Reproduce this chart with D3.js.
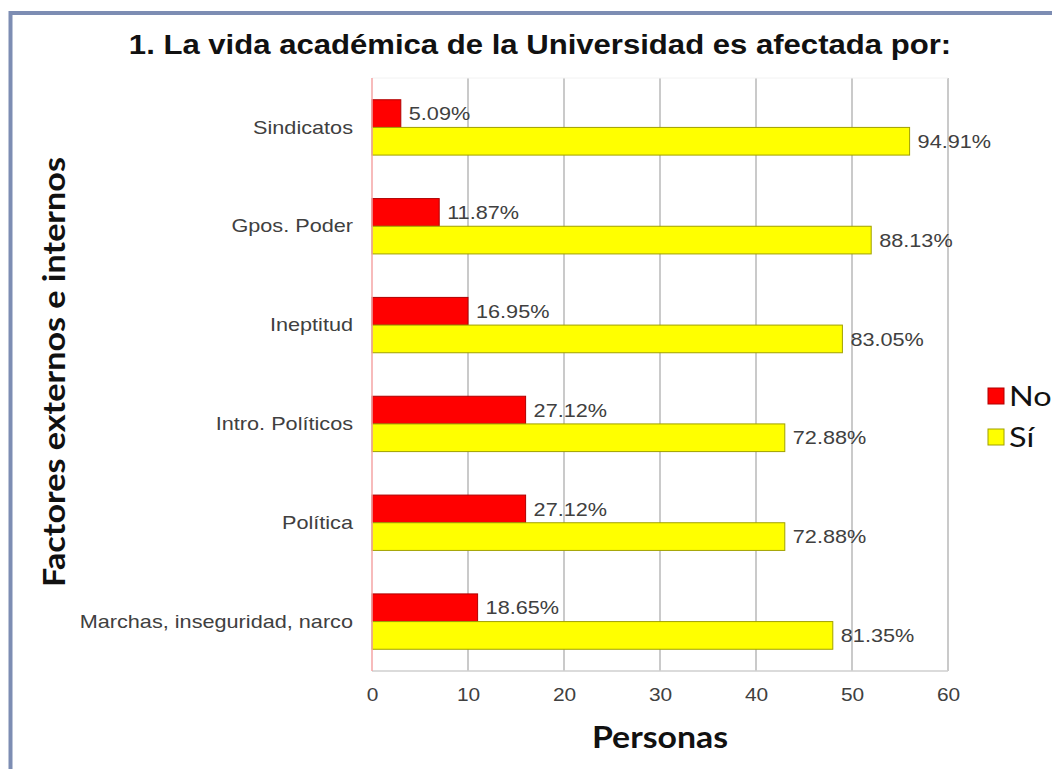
<!DOCTYPE html>
<html>
<head>
  <meta charset="utf-8">
  <title>La vida académica</title>
  <script src="https://d3js.org/d3.v7.min.js"></script>
  <style>
    body { margin: 0; background: #fff; }
    svg { display: block; }
  </style>
</head>
<body>
  <svg width="1052" height="769"></svg>

  <script>
    const categories = ["Sindicatos", "Gpos. Poder", "Ineptitud", "Intro. Políticos", "Política", "Marchas, inseguridad, narco"];
    const seriesNames = ["No", "Sí"];
    const noValues = [3, 7, 10, 16, 16, 11];
    const siValues = [56, 52, 49, 43, 43, 48];
    const noLabels = ["5.09%", "11.87%", "16.95%", "27.12%", "27.12%", "18.65%"];
    const siLabels = ["94.91%", "88.13%", "83.05%", "72.88%", "72.88%", "81.35%"];
    const xTicks = [0, 10, 20, 30, 40, 50, 60];

    const colors = { "No": "#ff0000", "Sí": "#ffff00" };
    const strokes = { "No": "#b00000", "Sí": "#a0a000" };
    const sans = "'Liberation Sans', Arial, sans-serif";
    const calib = "Lato, 'Open Sans', sans-serif";

    // stretch text horizontally (the source picture is a bit wider than its fonts)
    function stretch(sel, k) {
      sel.each(function() {
        const w = this.getComputedTextLength();
        d3.select(this).attr("textLength", w * k).attr("lengthAdjust", "spacingAndGlyphs");
      });
    }

    const svg = d3.select("svg");

    // frame
    svg.append("rect")
      .attr("x", 10.5).attr("y", 13)
      .attr("width", 1100).attr("height", 800)
      .attr("fill", "none")
      .attr("stroke", "#7d8db3")
      .attr("stroke-width", 4);

    const plotLeft = 372, plotRight = 948, plotTop = 78, plotBottom = 671;

    const x = d3.scaleLinear().domain([0, 60]).range([plotLeft, plotRight]);
    const y = d3.scaleBand().domain(categories).range([plotTop, plotBottom]).paddingInner(0.44).paddingOuter(0.22);
    const ySub = d3.scaleBand().domain(seriesNames).range([0, y.bandwidth()]);

    // title
    svg.append("text")
      .attr("x", 540).attr("y", 54)
      .attr("text-anchor", "middle")
      .style("font-family", sans)
      .attr("font-size", 28).attr("font-weight", "bold")
      .attr("fill", "#111")
      .text("1. La vida académica de la Universidad es afectada por:")
      .call(stretch, 1.11);

    // grid
    svg.append("g")
      .selectAll("line")
      .data(xTicks.slice(1))
      .join("line")
      .attr("x1", d => x(d)).attr("x2", d => x(d))
      .attr("y1", plotTop).attr("y2", plotBottom)
      .attr("stroke", "#bdbdbd").attr("stroke-width", 1.6);

    svg.append("line")
      .attr("x1", plotLeft).attr("x2", plotRight)
      .attr("y1", plotBottom).attr("y2", plotBottom)
      .attr("stroke", "#cfcfcf").attr("stroke-width", 1.6);
    svg.append("line")
      .attr("x1", plotLeft).attr("x2", plotRight)
      .attr("y1", plotTop).attr("y2", plotTop)
      .attr("stroke", "#f2f2f2").attr("stroke-width", 1);

    // x axis
    const xAxis = svg.append("g")
      .attr("transform", `translate(0,${plotBottom})`)
      .call(d3.axisBottom(x).tickValues(xTicks).tickSize(0).tickPadding(17));
    xAxis.select(".domain").remove();
    xAxis.selectAll("text")
      .attr("font-size", 19).attr("fill", "#404040")
      .style("font-family", sans)
      .call(stretch, 1.1);

    // y axis labels
    const yAxis = svg.append("g")
      .attr("transform", `translate(${plotLeft},0)`)
      .call(d3.axisLeft(y).tickSize(0).tickPadding(19));
    yAxis.select(".domain").remove();
    yAxis.selectAll("text")
      .attr("font-size", 19).attr("fill", "#404040")
      .style("font-family", sans)
      .call(stretch, 1.14);

    // bars
    const rows = categories.map((c, i) => ({
      cat: c,
      values: [
        { s: "No", v: noValues[i], label: noLabels[i] },
        { s: "Sí", v: siValues[i], label: siLabels[i] }
      ]
    }));

    const groups = svg.append("g")
      .selectAll("g")
      .data(rows)
      .join("g")
      .attr("transform", d => `translate(0,${y(d.cat)})`);

    groups.selectAll("rect")
      .data(d => d.values)
      .join("rect")
      .attr("x", x(0))
      .attr("y", d => ySub(d.s))
      .attr("width", d => x(d.v) - x(0))
      .attr("height", ySub.bandwidth())
      .attr("fill", d => colors[d.s])
      .attr("stroke", d => strokes[d.s])
      .attr("stroke-width", 1);

    groups.selectAll("text.val")
      .data(d => d.values)
      .join("text")
      .attr("class", "val")
      .attr("x", d => x(d.v) + 8)
      .attr("y", d => ySub(d.s) + ySub.bandwidth() / 2)
      .attr("dy", "0.35em")
      .style("font-family", sans)
      .attr("font-size", 19).attr("fill", "#404040")
      .text(d => d.label)
      .call(stretch, 1.14);

    // zero axis line
    svg.append("line")
      .attr("x1", x(0)).attr("x2", x(0))
      .attr("y1", plotTop).attr("y2", plotBottom)
      .attr("stroke", "#f4a4a4").attr("stroke-width", 1.5);

    // axis titles
    svg.append("text")
      .attr("transform", "translate(65,372) rotate(-90)")
      .attr("text-anchor", "middle")
      .style("font-family", calib)
      .attr("font-size", 31).attr("font-weight", 700)
      .attr("fill", "#111")
      .attr("textLength", 430).attr("lengthAdjust", "spacingAndGlyphs")
      .text("Factores externos e internos");

    svg.append("text")
      .attr("x", 660).attr("y", 748)
      .attr("text-anchor", "middle")
      .style("font-family", calib)
      .attr("font-size", 31).attr("font-weight", 700)
      .attr("fill", "#111")
      .attr("textLength", 136).attr("lengthAdjust", "spacingAndGlyphs")
      .text("Personas");

    // legend
    const legend = svg.append("g")
      .selectAll("g")
      .data(seriesNames)
      .join("g")
      .attr("transform", (d, i) => `translate(988,${396 + i * 41})`);
    legend.append("rect")
      .attr("x", 0).attr("y", -8)
      .attr("width", 16).attr("height", 16)
      .attr("fill", d => colors[d])
      .attr("stroke", d => strokes[d]);
    legend.append("text")
      .attr("x", 21).attr("y", 0).attr("dy", "0.36em")
      .style("font-family", calib)
      .attr("font-size", 27)
      .attr("fill", "#111")
      .text(d => d)
      .call(stretch, 1.2);
  </script>
</body>
</html>
